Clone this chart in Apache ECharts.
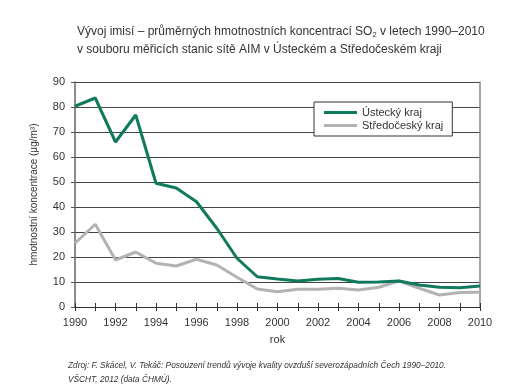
<!DOCTYPE html>
<html><head><meta charset="utf-8">
<script src="https://cdn.jsdelivr.net/npm/echarts@6/dist/echarts.min.js"></script>
<style>html,body{margin:0;padding:0;background:#fff}#c{width:524px;height:388px}</style>
</head><body><div id="c"></div>
<script>
const years = ['1990','1991','1992','1993','1994','1995','1996','1997','1998','1999','2000','2001','2002','2003','2004','2005','2006','2007','2008','2009','2010'];
const ustecky = [80.3, 83.6, 66, 76.8, 49.5, 47.6, 42.1, 31.5, 19.5, 12.1, 11.2, 10.4, 11.1, 11.4, 9.9, 10, 10.4, 8.8, 7.9, 7.7, 8.4];
const stredocesky = [25.5, 33.1, 18.8, 22, 17.5, 16.4, 19.1, 16.8, 11.9, 7.2, 6.1, 7.1, 7.1, 7.5, 6.8, 7.9, 10.4, 7.5, 4.8, 5.8, 5.9];
const yTicks = [0, 10, 20, 30, 40, 50, 60, 70, 80, 90];

const font = 'Liberation Sans';
const chart = echarts.init(document.getElementById('c'), null, {renderer: 'canvas'});
chart.setOption({
  animation: false,
  backgroundColor: '#fff',
  textStyle: {fontFamily: font},
  title: [{
    left: 72, top: 18,
    text: '{t|Vývoj imisí – průměrných hmotnostních koncentrací SO}{s|2}{t| v letech 1990–2010}\n{t|v souboru měřicích stanic sítě AIM v Ústeckém a Středočeském kraji}',
    textStyle: {
      fontWeight: 'normal',
      rich: {
        t: {fontSize: 12, color: '#333', fontFamily: font, fontWeight: 'normal', lineHeight: 18},
        s: {fontSize: 7.5, color: '#333', fontFamily: font, fontWeight: 'normal', lineHeight: 18, padding: [6, 0, 0, 0]}
      }
    }
  }, {
    left: 63, top: 354,
    text: 'Zdroj: F. Skácel, V. Tekáč: Posouzení trendů vývoje kvality ovzduší severozápadních Čech 1990–2010.\nVŠCHT, 2012 (data ČHMÚ).',
    textStyle: {fontSize: 8.3, fontStyle: 'italic', fontWeight: 'normal', color: '#333', fontFamily: font, lineHeight: 14}
  }],
  legend: {
    left: 314, top: 102, orient: 'vertical',
    backgroundColor: '#fff', borderColor: '#333', borderWidth: 1,
    padding: [5, 9, 5, 10], itemGap: 2,
    itemWidth: 33, itemHeight: 3, icon: 'rect',
    textStyle: {fontSize: 11, color: '#333', fontFamily: font},
    data: ['Ústecký kraj', 'Středočeský kraj']
  },
  grid: {left: 75, right: 44, top: 82, bottom: 81, containLabel: false},
  xAxis: [{
    type: 'category', data: years, boundaryGap: false,
    name: 'rok', nameLocation: 'middle', nameGap: 27,
    nameTextStyle: {fontSize: 11, color: '#333'},
    axisLine: {lineStyle: {color: '#333', width: 1}},
    axisTick: {show: true, interval: 0, length: 4, lineStyle: {color: '#333'}},
    axisLabel: {interval: 1, fontSize: 11, color: '#333', margin: 10},
    splitLine: {show: false}
  }, {
    type: 'category', data: years, boundaryGap: false, position: 'bottom',
    axisLine: {show: false},
    axisTick: {show: true, inside: true, interval: 0, length: 4, lineStyle: {color: '#333'}},
    axisLabel: {show: false}, splitLine: {show: false}
  }],
  yAxis: [{
    type: 'value', min: 0, max: 90, interval: 10,
    name: 'hmotnostní koncentrace (μg/m³)', nameLocation: 'middle', nameGap: 36,
    nameTextStyle: {fontSize: 10, color: '#333'},
    axisLine: {show: true, lineStyle: {color: '#666', width: 1.5}},
    axisTick: {show: true, length: 4, lineStyle: {color: '#555'}},
    axisLabel: {fontSize: 11, color: '#333', margin: 10, formatter: v => yTicks.includes(v) ? String(v) : ''},
    splitLine: {show: true, lineStyle: {color: '#444', width: 1}}
  }, {
    type: 'value', min: 0, max: 90, interval: 10, position: 'right',
    axisLine: {show: true, lineStyle: {color: '#888', width: 1.5}},
    axisTick: {show: false}, axisLabel: {show: false}, splitLine: {show: false}
  }],
  series: [{
    name: 'Ústecký kraj', type: 'line', data: ustecky, symbol: 'none',
    lineStyle: {color: '#0f7a5c', width: 3}, itemStyle: {color: '#0f7a5c'}, z: 3
  }, {
    name: 'Středočeský kraj', type: 'line', data: stredocesky, symbol: 'none',
    lineStyle: {color: '#b3b3b3', width: 3}, itemStyle: {color: '#b3b3b3'}, z: 2
  }]
});
</script></body></html>
